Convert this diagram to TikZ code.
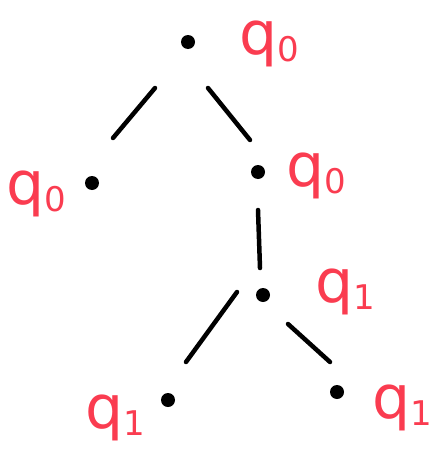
\documentclass[tikz,border=0pt]{standalone}
\usepackage{fontspec}
\setsansfont{DejaVu Sans}
\definecolor{ink}{RGB}{250,60,80}
\newcommand{\sub}[1]{\raisebox{-0.12em}{\fontsize{34}{34}\selectfont #1}}
\begin{document}
\begin{tikzpicture}[x=1pt,y=-1pt,
  dot/.style={circle,fill=black,inner sep=0pt,minimum size=14pt},
  edge/.style={draw=black,line width=4.5pt,line cap=round},
  lbl/.style={text=ink,font=\sffamily\fontsize{60}{60}\selectfont,inner sep=0pt,anchor=center}]
\useasboundingbox (0,0) rectangle (435,455);
\node[dot] (r) at (188,42) {};
\node[dot] (a) at (92,183) {};
\node[dot] (b) at (258,172) {};
\node[dot] (c) at (263,295) {};
\node[dot] (d) at (168,400) {};
\node[dot] (e) at (337,392) {};
\coordinate (r1) at (155,88); \coordinate (a1) at (113,138);
\coordinate (r2) at (208,88); \coordinate (b1) at (250,140);
\coordinate (b2) at (258,210); \coordinate (c1) at (260,268);
\coordinate (c2) at (237,292); \coordinate (d1) at (186,362);
\coordinate (c3) at (288,324); \coordinate (e1) at (330,362);
\draw[edge] (r1) -- (a1);
\draw[edge] (r2) -- (b1);
\draw[edge] (b2) -- (c1);
\draw[edge] (c2) -- (d1);
\draw[edge] (c3) -- (e1);
\node[lbl] (lr) at (269,44) {q\sub{0}};
\node[lbl] (la) at (36,194) {q\sub{0}};
\node[lbl] (lb) at (316,176) {q\sub{0}};
\node[lbl] (lc) at (345,292) {q\sub{1}};
\node[lbl] (ld) at (115,418) {q\sub{1}};
\node[lbl] (le) at (402,408) {q\sub{1}};
\end{tikzpicture}
\end{document}
